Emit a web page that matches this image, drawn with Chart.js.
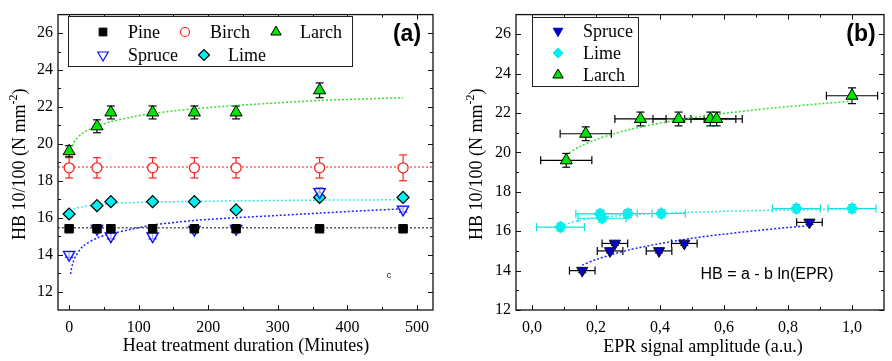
<!DOCTYPE html>
<html><head><meta charset="utf-8">
<script src="https://cdn.jsdelivr.net/npm/chart.js@4/dist/chart.umd.min.js"></script>
<style>
html,body{margin:0;padding:0;background:#fff;}
#wrap{position:relative;width:892px;height:361px;overflow:hidden;}
.pane{position:absolute;top:0;width:446px;height:361px;}
</style></head><body>
<div id="wrap">
<div class="pane" style="left:0"><canvas id="ca" width="446" height="361"></canvas></div>
<div class="pane" style="left:446px"><canvas id="cb" width="446" height="361"></canvas></div>
</div>
<script>
// ================= Panel (a): HB vs heat treatment duration =================
const timesA      = [0, 40, 60, 120, 180, 240, 360, 480];
const timesBirchA = [0, 40, 120, 180, 240, 360, 480];
const timesLarchA = [0, 40, 60, 120, 180, 240, 360];
const pineA       = [15.4, 15.4, 15.4, 15.4, 15.4, 15.4, 15.4, 15.4];
const pineErrA    = [0.1, 0.1, 0.1, 0.1, 0.1, 0.1, 0.1, 0.1];
const birchA      = [18.7, 18.7, 18.7, 18.7, 18.7, 18.7, 18.7];
const birchErrA   = [0.55, 0.55, 0.55, 0.55, 0.55, 0.55, 0.7];
const larchA      = [19.6, 20.95, 21.7, 21.7, 21.7, 21.7, 22.9];
const larchErrA   = [0.3, 0.35, 0.35, 0.35, 0.35, 0.35, 0.4];
const spruceA     = [14.0, 15.4, 15.0, 15.0, 15.35, 15.4, 17.4, 16.45];
const spruceErrA  = [0.15, 0.15, 0.15, 0.15, 0.15, 0.15, 0.2, 0.15];
const limeA       = [16.2, 16.65, 16.87, 16.87, 16.87, 16.42, 17.1, 17.1];
const limeErrA    = [0.12, 0.12, 0.12, 0.12, 0.12, 0.12, 0.12, 0.12];

// fitted curves
const larchFitXA  = [1, 5, 10, 20, 30, 40, 60, 90, 120, 180, 240, 300, 360, 420, 480];
const larchFitYA  = [19.7, 19.95, 20.25, 20.6, 20.8, 20.95, 21.2, 21.45, 21.65, 21.9, 22.08, 22.22, 22.35, 22.43, 22.5];
const limeFitXA   = [1, 10, 20, 40, 60, 120, 180, 240, 360, 480];
const limeFitYA   = [16.35, 16.5, 16.6, 16.7, 16.77, 16.85, 16.88, 16.91, 16.95, 16.97];
const spruceFitXA = [2, 5, 10, 20, 40, 60, 90, 120, 180, 240, 300, 360, 420, 480];
const spruceFitYA = [12.95, 13.5, 13.95, 14.45, 14.9, 15.12, 15.38, 15.6, 15.85, 16.0, 16.12, 16.25, 16.37, 16.48];
const birchLevelA = 18.75;
const pineLevelA  = 15.46;

const xRangeA      = [-16, 523];
const yRangeA      = [11, 27];
const xTicksA      = [0, 100, 200, 300, 400, 500];
const xTickLabelsA = ['0', '100', '200', '300', '400', '500'];
const xMinorA      = [50, 150, 250, 350, 450];
const yTicksA      = [12, 14, 16, 18, 20, 22, 24, 26];
const yTickLabelsA = ['12', '14', '16', '18', '20', '22', '24', '26'];
const yMinorA      = [13, 15, 17, 19, 21, 23, 25];

// ================= Panel (b): HB vs EPR signal amplitude =================
const eprSpruceB    = [0.157, 0.244, 0.259, 0.397, 0.476, 0.867];
const hbSpruceB     = [14.0, 15.0, 15.38, 15.0, 15.38, 16.45];
const eprErrSpruceB = [0.04, 0.04, 0.04, 0.04, 0.04, 0.04];
const hbErrSpruceB  = [0.1, 0.1, 0.1, 0.1, 0.1, 0.1];
const eprLimeB      = [0.089, 0.212, 0.219, 0.30, 0.404, 0.826, 1.0];
const hbLimeB       = [16.21, 16.88, 16.66, 16.9, 16.9, 17.15, 17.15];
const eprErrLimeB   = [0.075, 0.075, 0.075, 0.075, 0.075, 0.075, 0.075];
const hbErrLimeB    = [0.2, 0.2, 0.2, 0.2, 0.2, 0.2, 0.2];
const eprLarchB     = [0.107, 0.168, 0.339, 0.458, 0.557, 0.577, 1.0];
const hbLarchB      = [19.6, 20.95, 21.7, 21.7, 21.7, 21.7, 22.88];
const eprErrLarchB  = [0.08, 0.08, 0.08, 0.08, 0.08, 0.08, 0.08];
const hbErrLarchB   = [0.35, 0.35, 0.35, 0.35, 0.35, 0.35, 0.4];

const larchFitXB  = [0.105, 0.15, 0.2, 0.25, 0.3, 0.4, 0.5, 0.6, 0.7, 0.8, 0.9, 1.0];
const larchFitYB  = [19.87, 20.3, 20.65, 20.92, 21.14, 21.49, 21.76, 21.98, 22.17, 22.33, 22.47, 22.6];
const limeFitXB   = [0.1, 0.15, 0.2, 0.3, 0.4, 0.5, 0.6, 0.8, 1.0];
const limeFitYB   = [16.33, 16.55, 16.68, 16.82, 16.9, 16.96, 17.01, 17.08, 17.13];
const spruceFitXB = [0.157, 0.2, 0.3, 0.4, 0.5, 0.6, 0.7, 0.8, 0.867];
const spruceFitYB = [14.28, 14.56, 15.04, 15.37, 15.64, 15.85, 16.03, 16.19, 16.28];

const xRangeB      = [-0.05, 1.1];
const yRangeB      = [12, 27];
const xTicksB      = [0, 0.2, 0.4, 0.6, 0.8, 1.0];
const xTickLabelsB = ['0,0', '0,2', '0,4', '0,6', '0,8', '1,0'];
const xMinorB      = [0.1, 0.3, 0.5, 0.7, 0.9];
const yTicksB      = [12, 14, 16, 18, 20, 22, 24, 26];
const yTickLabelsB = ['12', '14', '16', '18', '20', '22', '24', '26'];
const yMinorB      = [13, 15, 17, 19, 21, 23, 25];

// ================= helpers =================
const SERIF = "'Liberation Serif', 'Times New Roman', serif";
const SANS  = "'Liberation Sans', Arial, sans-serif";
const GREEN = '#00e400', CYAN = '#00f0f0', BLUE = '#1010ff', NAVY = '#0000c8', RED = '#ff2020';

const pts = (xs, ys) => xs.map((x, i) => ({x: x, y: ys[i]}));

function drawMarker(ctx, m, x, y) {
  const r = m.r;
  ctx.save();
  ctx.beginPath();
  if (m.style === 'rect') {
    const s = r * Math.SQRT1_2;
    ctx.rect(x - s, y - s, 2 * s, 2 * s);
  } else if (m.style === 'circle') {
    ctx.arc(x, y, r, 0, Math.PI * 2);
  } else if (m.style === 'diamond') {
    ctx.moveTo(x - r, y); ctx.lineTo(x, y - r); ctx.lineTo(x + r, y); ctx.lineTo(x, y + r); ctx.closePath();
  } else if (m.style === 'tri' || m.style === 'triDown') {
    let a = m.style === 'tri' ? 0 : Math.PI;
    for (let k = 0; k < 3; k++) {
      const px = x + Math.sin(a) * r, py = y - Math.cos(a) * r;
      if (k === 0) ctx.moveTo(px, py); else ctx.lineTo(px, py);
      a += 2 * Math.PI / 3;
    }
    ctx.closePath();
  }
  ctx.fillStyle = m.fill; ctx.fill();
  ctx.lineWidth = m.lw; ctx.strokeStyle = m.stroke; ctx.stroke();
  ctx.restore();
}

function line(ctx, x1, y1, x2, y2) { ctx.beginPath(); ctx.moveTo(x1, y1); ctx.lineTo(x2, y2); ctx.stroke(); }

function yTitle(ctx, cx, cy) {
  const big = '18px ' + SERIF, small = '12px ' + SERIF;
  const p1 = 'HB 10/100 (N mm', p2 = '-2', p3 = ')';
  ctx.save();
  ctx.translate(cx, cy); ctx.rotate(-Math.PI / 2);
  ctx.font = big; const w1 = ctx.measureText(p1).width, w3 = ctx.measureText(p3).width;
  ctx.font = small; const w2 = ctx.measureText(p2).width;
  let x = -(w1 + w2 + w3) / 2;
  ctx.fillStyle = '#000'; ctx.textBaseline = 'alphabetic'; ctx.textAlign = 'left';
  ctx.font = big; ctx.fillText(p1, x, 6); x += w1;
  ctx.font = small; ctx.fillText(p2, x, -2); x += w2;
  ctx.font = big; ctx.fillText(p3, x, 6);
  ctx.restore();
}

function makeDecor(spec) {
  return {
    id: 'decor',
    beforeDatasetsDraw(chart) {
      const ctx = chart.ctx, xs = chart.scales.x, ys = chart.scales.y;
      ctx.save();
      ctx.lineWidth = 1.2;
      spec.errors.forEach(e => {
        ctx.strokeStyle = e.color;
        e.x.forEach((xv, i) => {
          const px = xs.getPixelForValue(xv), py = ys.getPixelForValue(e.y[i]);
          if (e.yerr) {
            const y1 = ys.getPixelForValue(e.y[i] + e.yerr[i]), y2 = ys.getPixelForValue(e.y[i] - e.yerr[i]);
            line(ctx, px, y1, px, y2);
            line(ctx, px - 4, y1, px + 4, y1);
            line(ctx, px - 4, y2, px + 4, y2);
          }
          if (e.xerr) {
            const x1 = xs.getPixelForValue(xv - e.xerr[i]), x2 = xs.getPixelForValue(xv + e.xerr[i]);
            line(ctx, x1, py, x2, py);
            line(ctx, x1, py - 4, x1, py + 4);
            line(ctx, x2, py - 4, x2, py + 4);
          }
        });
      });
      ctx.restore();
    },
    afterDraw(chart) {
      const ctx = chart.ctx, xs = chart.scales.x, ys = chart.scales.y, ca = chart.chartArea;
      ctx.save();
      ctx.strokeStyle = '#111'; ctx.lineWidth = 1.3;
      ctx.strokeRect(ca.left, ca.top, ca.right - ca.left, ca.bottom - ca.top);
      ctx.lineWidth = 1;
      spec.xMajor.forEach(v => { const p = Math.round(xs.getPixelForValue(v)) + 0.5; line(ctx, p, ca.bottom, p, ca.bottom - 5); line(ctx, p, ca.top, p, ca.top + 5); });
      spec.xMinor.forEach(v => { const p = Math.round(xs.getPixelForValue(v)) + 0.5; line(ctx, p, ca.bottom, p, ca.bottom - 3); line(ctx, p, ca.top, p, ca.top + 3); });
      spec.yMajor.forEach(v => { const p = Math.round(ys.getPixelForValue(v)) + 0.5; line(ctx, ca.left, p, ca.left + 5, p); line(ctx, ca.right, p, ca.right - 5, p); });
      spec.yMinor.forEach(v => { const p = Math.round(ys.getPixelForValue(v)) + 0.5; line(ctx, ca.left, p, ca.left + 3, p); line(ctx, ca.right, p, ca.right - 3, p); });

      // legend box
      const lg = spec.legend;
      ctx.fillStyle = '#fff';
      ctx.fillRect(lg.box[0], lg.box[1], lg.box[2], lg.box[3]);
      ctx.strokeStyle = '#222'; ctx.lineWidth = 1;
      ctx.strokeRect(lg.box[0] + 0.5, lg.box[1] + 0.5, lg.box[2], lg.box[3]);
      lg.items.forEach(it => {
        drawMarker(ctx, it.m, it.mx, it.y);
        ctx.fillStyle = '#000'; ctx.font = '18px ' + SERIF; ctx.textAlign = 'left'; ctx.textBaseline = 'middle';
        ctx.fillText(it.text, it.tx, it.y + 1);
      });

      // texts
      spec.texts.forEach(t => {
        ctx.fillStyle = '#000'; ctx.font = t.font; ctx.textAlign = t.align || 'center'; ctx.textBaseline = 'middle';
        ctx.fillText(t.text, t.x, t.y);
      });
      yTitle(ctx, spec.yTitleX, (ca.top + ca.bottom) / 2 + 2);
      ctx.restore();
    }
  };
}

function scaleOpts(range, ticks, labels, axis, fit) {
  return {
    type: 'linear', min: range[0], max: range[1],
    afterBuildTicks: s => { s.ticks = ticks.map(v => ({value: v})); },
    afterFit: s => { if (axis === 'x') s.height = fit; else s.width = fit; },
    grid: {display: false, drawTicks: false, tickLength: 0}, border: {display: false},
    ticks: {
      autoSkip: false, maxRotation: 0, color: '#000', padding: axis === 'x' ? 8 : 5,
      font: {family: 'Liberation Serif', size: 16},
      callback: (v, i) => labels[i]
    }
  };
}

function fitSet(xs, ys, color) {
  return {type: 'scatter', data: pts(xs, ys), showLine: true, borderColor: color, borderWidth: 1.5,
          borderDash: [2, 2], pointRadius: 0, fill: false, order: 10, tension: 0.3};
}
function ptSet(xs, ys, style, r, fill, stroke, lw, rot) {
  return {type: 'scatter', data: pts(xs, ys), pointStyle: style, pointRadius: r, pointRotation: rot || 0,
          pointBackgroundColor: fill, pointBorderColor: stroke, pointBorderWidth: lw, showLine: false, order: 1};
}

const commonOpts = (spec) => ({
  responsive: false, animation: false, devicePixelRatio: 1,
  layout: {padding: spec.pad},
  plugins: {legend: {display: false}, tooltip: {enabled: false}},
  scales: {
    x: scaleOpts(spec.xRange, spec.xTicks, spec.xLabels, 'x', spec.xFit),
    y: scaleOpts(spec.yRange, spec.yTicks, spec.yLabels, 'y', spec.yFit)
  }
});

// ----- Chart (a)
const specA = {
  pad: {left: 0, right: 13, top: 8, bottom: 0}, xFit: 51, yFit: 58,
  xRange: xRangeA, yRange: yRangeA, xTicks: xTicksA, xLabels: xTickLabelsA, yTicks: yTicksA, yLabels: yTickLabelsA,
  xMajor: xTicksA, xMinor: xMinorA, yMajor: yTicksA, yMinor: yMinorA,
  errors: [
    {x: timesA, y: pineA, yerr: pineErrA, color: '#000'},
    {x: timesBirchA, y: birchA, yerr: birchErrA, color: RED},
    {x: timesLarchA, y: larchA, yerr: larchErrA, color: '#000'},
    {x: timesA, y: spruceA, yerr: spruceErrA, color: BLUE},
    {x: timesA, y: limeA, yerr: limeErrA, color: '#000'}
  ],
  legend: {
    box: [68, 16, 284, 50],
    items: [
      {text: 'Pine',   mx: 103, tx: 128, y: 32, m: {style: 'rect', r: 5.5, fill: '#000', stroke: '#000', lw: 1}},
      {text: 'Birch',  mx: 185, tx: 210, y: 32, m: {style: 'circle', r: 4.5, fill: '#fff', stroke: RED, lw: 1.2}},
      {text: 'Larch',  mx: 276, tx: 300, y: 32, m: {style: 'tri', r: 6, fill: GREEN, stroke: '#000', lw: 1}},
      {text: 'Spruce', mx: 103, tx: 128, y: 55, m: {style: 'triDown', r: 6, fill: '#fff', stroke: BLUE, lw: 1.2}},
      {text: 'Lime',   mx: 204, tx: 228, y: 55, m: {style: 'diamond', r: 5.5, fill: CYAN, stroke: '#000', lw: 1.2}}
    ]
  },
  texts: [
    {text: '(a)', x: 407, y: 35, font: 'bold 23px ' + SANS},
    {text: 'c', x: 389, y: 276, font: '9px ' + SANS},
    {text: 'Heat treatment duration (Minutes)', x: 246, y: 346, font: '18px ' + SERIF}
  ],
  yTitleX: 19
};
new Chart(document.getElementById('ca'), {
  type: 'scatter',
  data: {datasets: [
    fitSet(xRangeA, [birchLevelA, birchLevelA], '#ff6060'),
    fitSet(xRangeA, [pineLevelA, pineLevelA], '#555'),
    fitSet(larchFitXA, larchFitYA, '#30e030'),
    fitSet(limeFitXA, limeFitYA, '#30e8e8'),
    fitSet(spruceFitXA, spruceFitYA, '#2020ff'),
    ptSet(timesBirchA, birchA, 'circle', 5, '#fff', RED, 1.3),
    ptSet(timesA, pineA, 'rect', 6, '#000', '#000', 1),
    ptSet(timesA, spruceA, 'triangle', 6.5, 'rgba(255,255,255,0.6)', BLUE, 1.4, 180),
    ptSet(timesA, limeA, 'rectRot', 6, CYAN, '#000', 1.2),
    ptSet(timesLarchA, larchA, 'triangle', 7, GREEN, '#000', 1)
  ]},
  options: commonOpts(specA),
  plugins: [makeDecor(specA)]
});

// ----- Chart (b)
const specB = {
  pad: {left: 0, right: 1, top: 8, bottom: 0}, xFit: 51, yFit: 70,
  xRange: xRangeB, yRange: yRangeB, xTicks: xTicksB, xLabels: xTickLabelsB, yTicks: yTicksB, yLabels: yTickLabelsB,
  xMajor: xTicksB, xMinor: xMinorB, yMajor: yTicksB, yMinor: yMinorB,
  errors: [
    {x: eprLimeB, y: hbLimeB, yerr: hbErrLimeB, xerr: eprErrLimeB, color: '#10e0e0'},
    {x: eprLarchB, y: hbLarchB, yerr: hbErrLarchB, xerr: eprErrLarchB, color: '#000'},
    {x: eprSpruceB, y: hbSpruceB, yerr: hbErrSpruceB, xerr: eprErrSpruceB, color: '#000'}
  ],
  legend: {
    box: [86, 17, 106, 69],
    items: [
      {text: 'Spruce', mx: 112, tx: 137, y: 31, m: {style: 'triDown', r: 5.5, fill: NAVY, stroke: NAVY, lw: 1}},
      {text: 'Lime',   mx: 112, tx: 137, y: 53, m: {style: 'diamond', r: 5, fill: CYAN, stroke: CYAN, lw: 1}},
      {text: 'Larch',  mx: 112, tx: 137, y: 75, m: {style: 'tri', r: 6, fill: GREEN, stroke: '#000', lw: 1}}
    ]
  },
  texts: [
    {text: '(b)', x: 415, y: 35, font: 'bold 23px ' + SANS},
    {text: 'HB = a - b ln(EPR)', x: 321, y: 275, font: '16px ' + SANS},
    {text: 'EPR signal amplitude (a.u.)', x: 257, y: 347, font: '18px ' + SERIF}
  ],
  yTitleX: 30
};
new Chart(document.getElementById('cb'), {
  type: 'scatter',
  data: {datasets: [
    fitSet(larchFitXB, larchFitYB, '#30e030'),
    fitSet(limeFitXB, limeFitYB, '#30e8e8'),
    fitSet(spruceFitXB, spruceFitYB, '#2020ff'),
    ptSet(eprLimeB, hbLimeB, 'rectRot', 6, CYAN, CYAN, 1),
    ptSet(eprSpruceB, hbSpruceB, 'triangle', 6.5, NAVY, '#111', 1, 180),
    ptSet(eprLarchB, hbLarchB, 'triangle', 7, GREEN, '#000', 1)
  ]},
  options: commonOpts(specB),
  plugins: [makeDecor(specB)]
});
</script>
</body></html>
